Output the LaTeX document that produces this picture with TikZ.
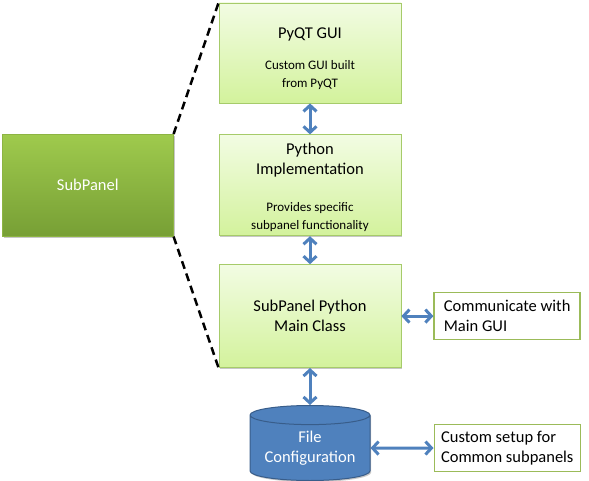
\documentclass[tikz,border=0pt]{standalone}
\usepackage{fontspec}
\setmainfont{Carlito}
\usepackage{xcolor}
\usetikzlibrary{positioning,arrows.meta,shapes.geometric,shadows}
\definecolor{cLayTop}{HTML}{F2FCE3}
\definecolor{cLayBot}{HTML}{D3F29C}
\definecolor{cLayEdge}{HTML}{A6CB6A}
\definecolor{cSubTop}{HTML}{9FCA4D}
\definecolor{cSubBot}{HTML}{779F35}
\definecolor{cSubEdge}{HTML}{8DB443}
\definecolor{cDb}    {HTML}{4F81BD}
\definecolor{cDbEdge}{HTML}{385D8A}
\definecolor{cNote}  {HTML}{9BBB59}
\definecolor{cArrow} {HTML}{4F81BD}
\newcommand{\smalltxt}{\fontsize{13}{16.5}\selectfont}
\newcommand{\topgap}[1]{\rule{0pt}{#1}}
\tikzset{
  >={Straight Barb[length=6pt,width=13pt]},
  bigfont/.style={font=\fontsize{16.5}{20}\selectfont},
  softshadow/.style={drop shadow={shadow xshift=1.2pt,shadow yshift=-1.5pt,
                     opacity=.22,fill=black}},
  layer/.style={rectangle,draw=cLayEdge,line width=0.8pt,top color=cLayTop,
                bottom color=cLayBot,minimum width=182pt,align=center,
                inner sep=0pt,bigfont,softshadow},
  subpanel/.style={rectangle,draw=cSubEdge,line width=0.6pt,top color=cSubTop,
                   bottom color=cSubBot,minimum width=171pt,minimum height=102pt,
                   text=white,bigfont,softshadow},
  note/.style={rectangle,draw=cNote,line width=1.5pt,fill=white,align=left,
               minimum width=146pt,minimum height=47pt,inner sep=0pt,bigfont},
  dbase/.style={cylinder,shape border rotate=90,aspect=0.21,draw=cDbEdge,
                line width=1pt,fill=cDb,minimum width=120pt,minimum height=75pt,
                text=white,align=center,bigfont,inner sep=0pt,softshadow},
  biarrow/.style={<->,line width=3pt,cArrow},
  zoomline/.style={line width=2.5pt,dash pattern=on 8pt off 5pt,black},
}
\begin{document}
\begin{tikzpicture}
  \useasboundingbox (0,0) rectangle (589pt,480pt);
  \node[layer,minimum height=100pt] (gui) at (310pt,427pt)
    {\topgap{22pt}PyQT GUI\\[11pt]\smalltxt Custom GUI built\\[-2pt]\smalltxt from PyQT};
  \node[layer,minimum height=101pt,below=31pt of gui] (impl)
    {\topgap{16pt}Python\\Implementation\\[17pt]\smalltxt Provides specific\\[-2pt]\smalltxt subpanel functionality};
  \node[layer,minimum height=103pt,below=28pt of impl] (main)
    {SubPanel Python\\Main Class};
  \node[subpanel,left=45pt of impl] (sub) {SubPanel};
  \node[dbase,below=37pt of main] (db) {File\\Configuration};
  \node[note,right=32pt of main] (comm) {Communicate with\\Main GUI};
  \node[note,right=63pt of db] (cust) {Custom setup for\\Common subpanels};
  % zoom-out lines
  \draw[zoomline] (sub.north east)--(gui.north west);
  \draw[zoomline] (sub.south east)--(main.south west);
  % links
  \draw[biarrow] (gui)--(impl);
  \draw[biarrow] (impl)--(main);
  \draw[biarrow] (main)--(db);
  \draw[biarrow] (main)--(comm);
  \draw[biarrow] (db)--(cust);
\end{tikzpicture}
\end{document}
